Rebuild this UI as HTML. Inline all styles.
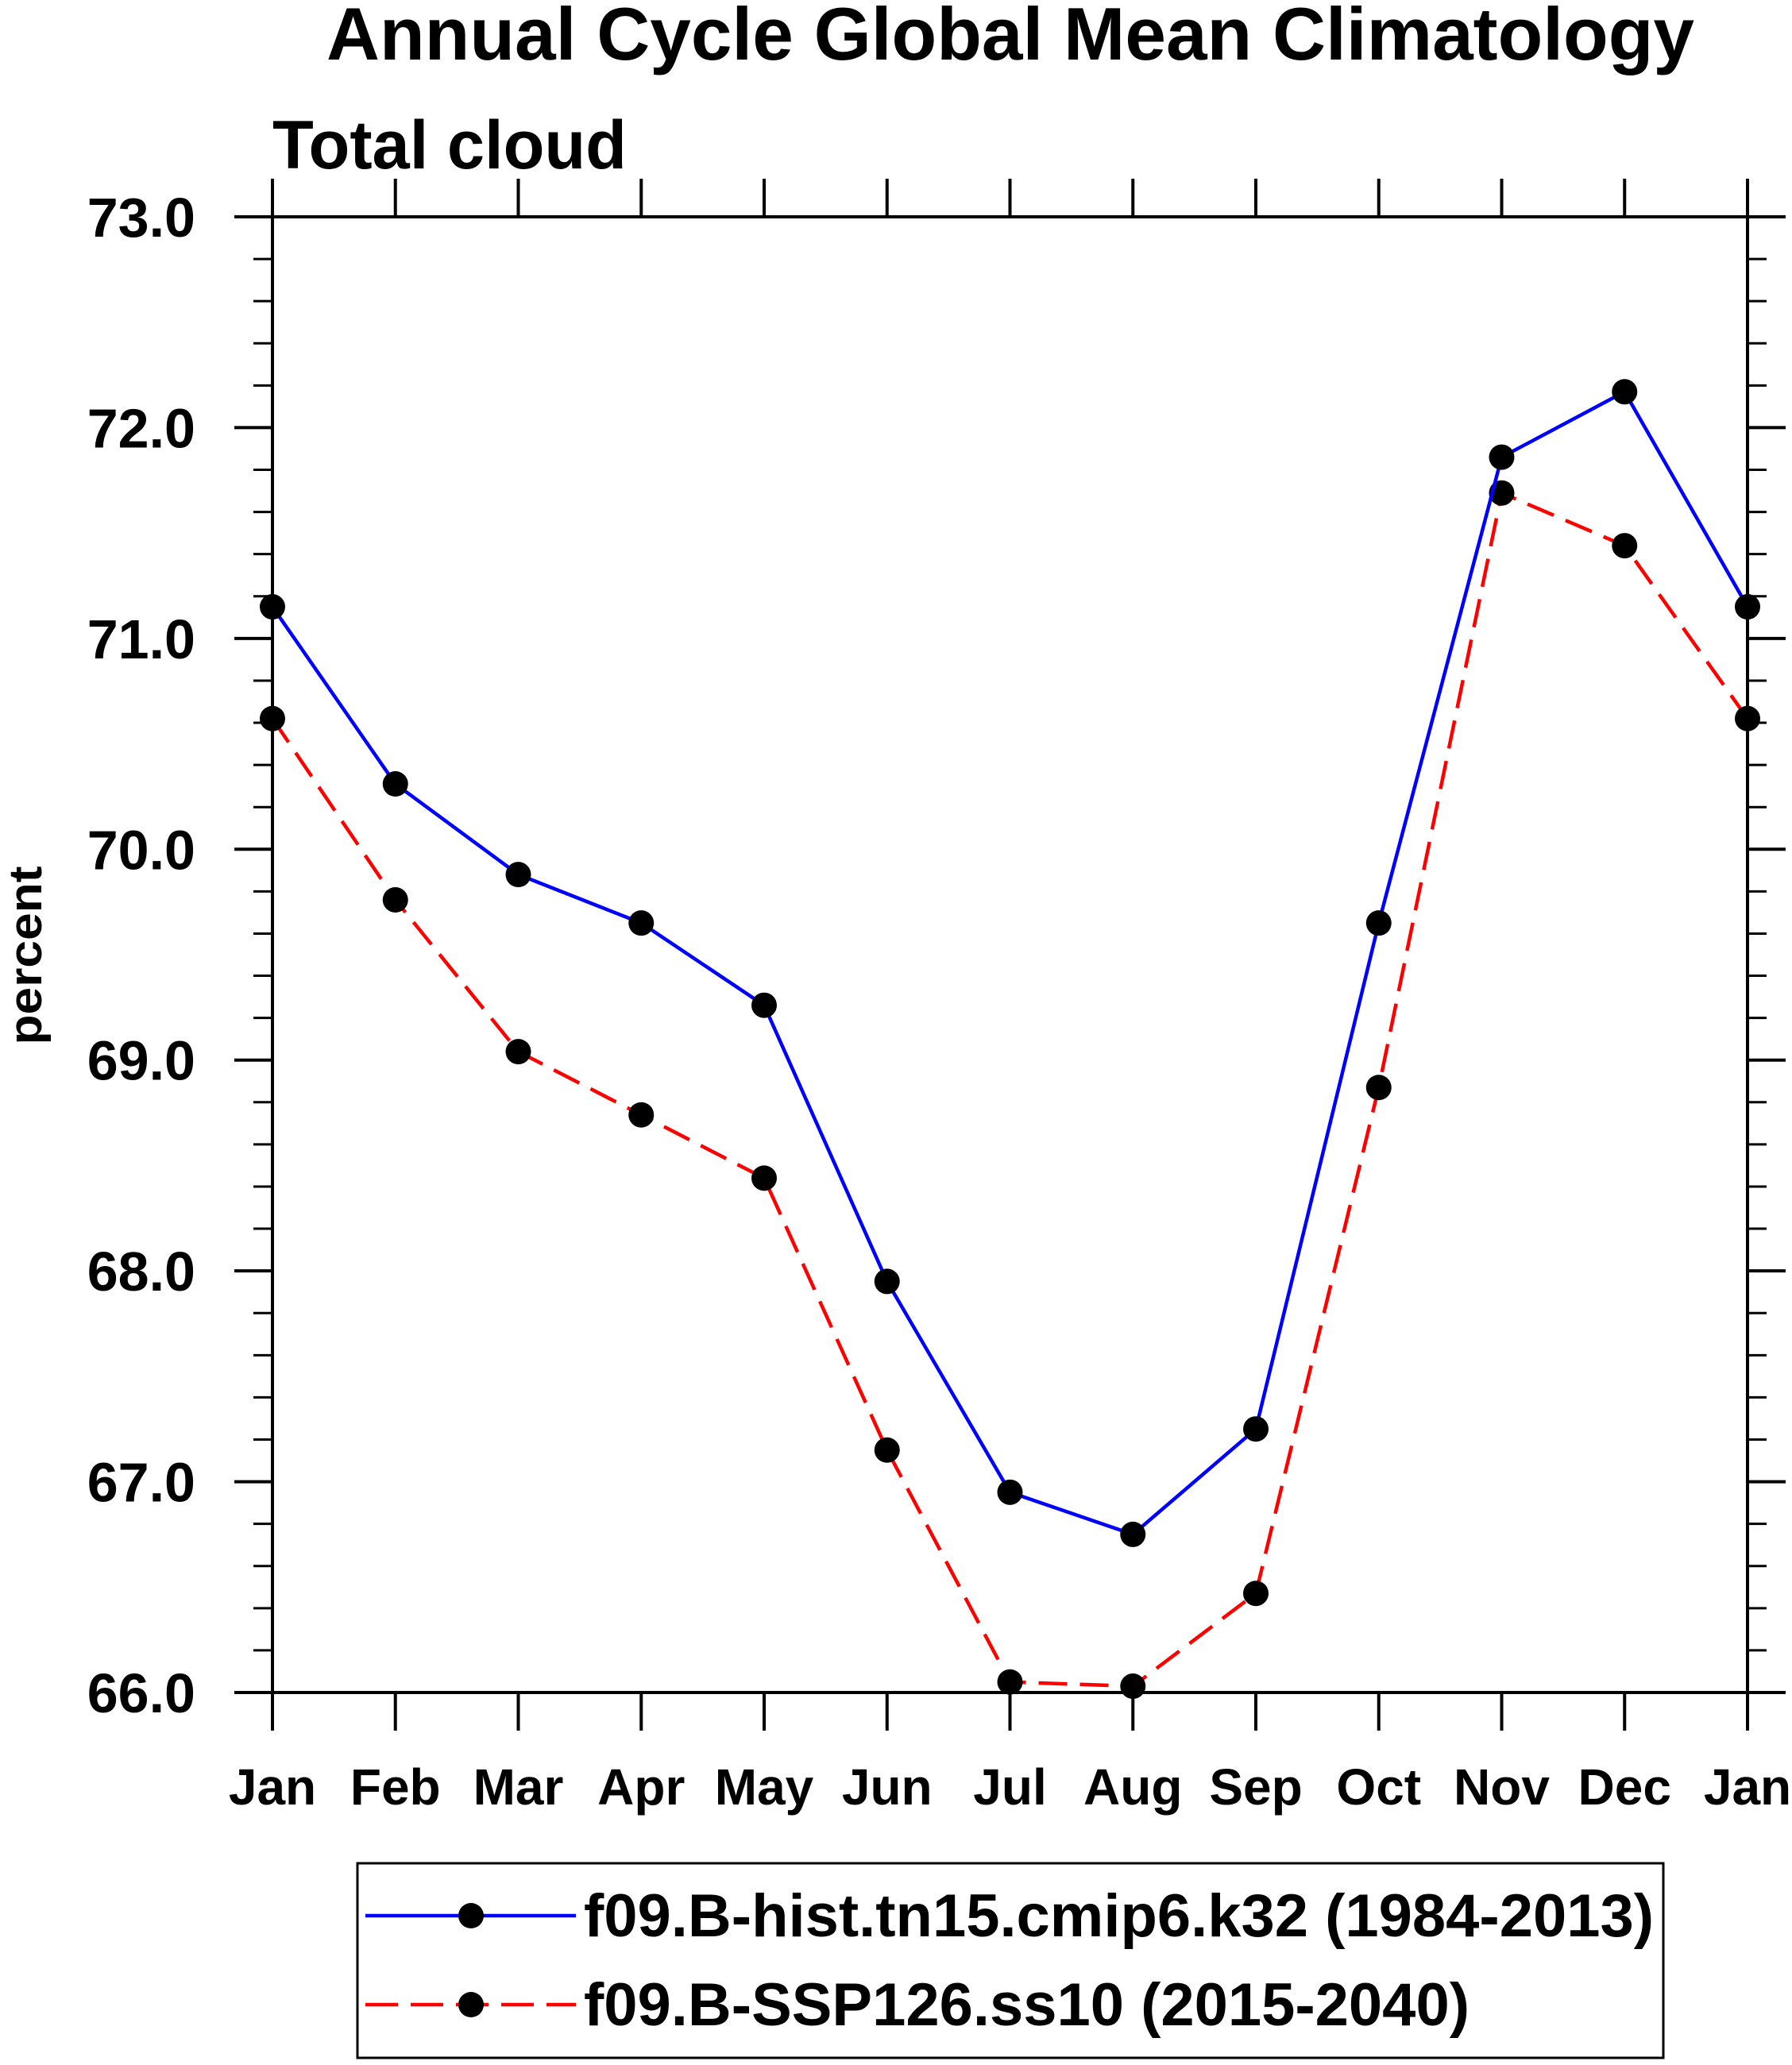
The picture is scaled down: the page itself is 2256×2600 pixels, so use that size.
<!DOCTYPE html>
<html><head><meta charset="utf-8"><style>
html,body{margin:0;padding:0;background:#fff;}
svg{display:block;font-family:"Liberation Sans",Arial,sans-serif;font-weight:bold;}
</style></head><body>
<svg id="chart" width="2256" height="2600" viewBox="0 0 2256 2600" xmlns="http://www.w3.org/2000/svg">
<text x="1272" y="75" font-size="94" text-anchor="middle" textLength="1722" lengthAdjust="spacingAndGlyphs">Annual Cycle Global Mean Climatology</text>
<text x="343" y="212" font-size="86" textLength="446" lengthAdjust="spacingAndGlyphs">Total cloud</text>
<text x="0" y="0" font-size="58" text-anchor="middle" textLength="225" lengthAdjust="spacingAndGlyphs" transform="translate(52,1203) rotate(-90)">percent</text>
<g id="axes"></g>
<g id="series"></g>
<rect x="450" y="2346" width="1644" height="245" fill="none" stroke="#000" stroke-width="3"/>
<g>
<line x1="460" y1="2412" x2="725" y2="2412" stroke="#0000ff" stroke-width="4.5"/>
<circle cx="593" cy="2412" r="16" fill="#000"/>
<text x="735" y="2438" font-size="76" textLength="1347" lengthAdjust="spacingAndGlyphs">f09.B-hist.tn15.cmip6.k32 (1984-2013)</text>
</g>
<g>
<line x1="460" y1="2524" x2="725" y2="2524" stroke="#ff0000" stroke-width="4.5" stroke-dasharray="41,16"/>
<circle cx="593" cy="2524" r="16" fill="#000"/>
<text x="735" y="2550" font-size="76" textLength="1115" lengthAdjust="spacingAndGlyphs">f09.B-SSP126.ss10 (2015-2040)</text>
</g>
</svg>
<script>
const months = ["Jan","Feb","Mar","Apr","May","Jun","Jul","Aug","Sep","Oct","Nov","Dec","Jan"];
const histValues = [71.15,70.31,69.88,69.65,69.26,67.95,66.95,66.75,67.25,69.65,71.86,72.17,71.15];
const sspValues = [70.62,69.76,69.04,68.74,68.44,67.15,66.05,66.03,66.47,68.87,71.69,71.44,70.62];
const yTicks = ["66.0","67.0","68.0","69.0","70.0","71.0","72.0","73.0"];
const yMin = 66, yMax = 73;

const NS = "http://www.w3.org/2000/svg";
const L = 343, R = 2200, T = 273, B = 2131;
const xs = i => L + (R - L) * i / (months.length - 1);
const ys = v => B - (B - T) * (v - yMin) / (yMax - yMin);
function mk(tag, attrs, parent){const e=document.createElementNS(NS,tag);for(const k in attrs)e.setAttribute(k,attrs[k]);parent.appendChild(e);return e;}
const ax = document.getElementById("axes");
const frame = mk("rect",{x:L,y:T,width:R-L,height:B-T,fill:"none",stroke:"#000","stroke-width":4},ax);


months.forEach((m,i)=>{
  const x = xs(i);
  mk("line",{x1:x,y1:B,x2:x,y2:B+48,stroke:"#000","stroke-width":4},ax);
  mk("line",{x1:x,y1:T,x2:x,y2:T-48,stroke:"#000","stroke-width":4},ax);
  const t = mk("text",{x:x,y:2272,"font-size":64,"text-anchor":"middle"},ax);
  t.textContent = m;
  
  
});
for(let v=yMin; v<=yMax+1e-9; v+=0.2){
  const y = ys(v);
  const major = Math.abs(v-Math.round(v))<1e-6;
  const len = major?48:24;
  mk("line",{x1:L-len,y1:y,x2:L,y2:y,stroke:"#000","stroke-width":major?4:3},ax);
  mk("line",{x1:R,y1:y,x2:R+len,y2:y,stroke:"#000","stroke-width":major?4:3},ax);
}
yTicks.forEach(lbl=>{
  const t = mk("text",{x:246,y:ys(parseFloat(lbl))+25,"font-size":70,"text-anchor":"end"},ax);
  t.textContent = lbl;
  
  
});
const sg = document.getElementById("series");
function drawSeries(vals,color,dash,name){
  const pts = vals.map((v,i)=>xs(i)+","+ys(v)).join(" ");
  const pl = mk("polyline",{points:pts,fill:"none",stroke:color,"stroke-width":4.5},sg);
  if(dash) pl.setAttribute("stroke-dasharray",dash);
  
  
  vals.forEach((v,i)=>{
    const c = mk("circle",{cx:xs(i),cy:ys(v),r:16,fill:"#000"},sg);
    
    
  });
}
drawSeries(sspValues,"#ff0000","36,16","ssp126");
drawSeries(histValues,"#0000ff",null,"hist");
</script>
</body></html>
